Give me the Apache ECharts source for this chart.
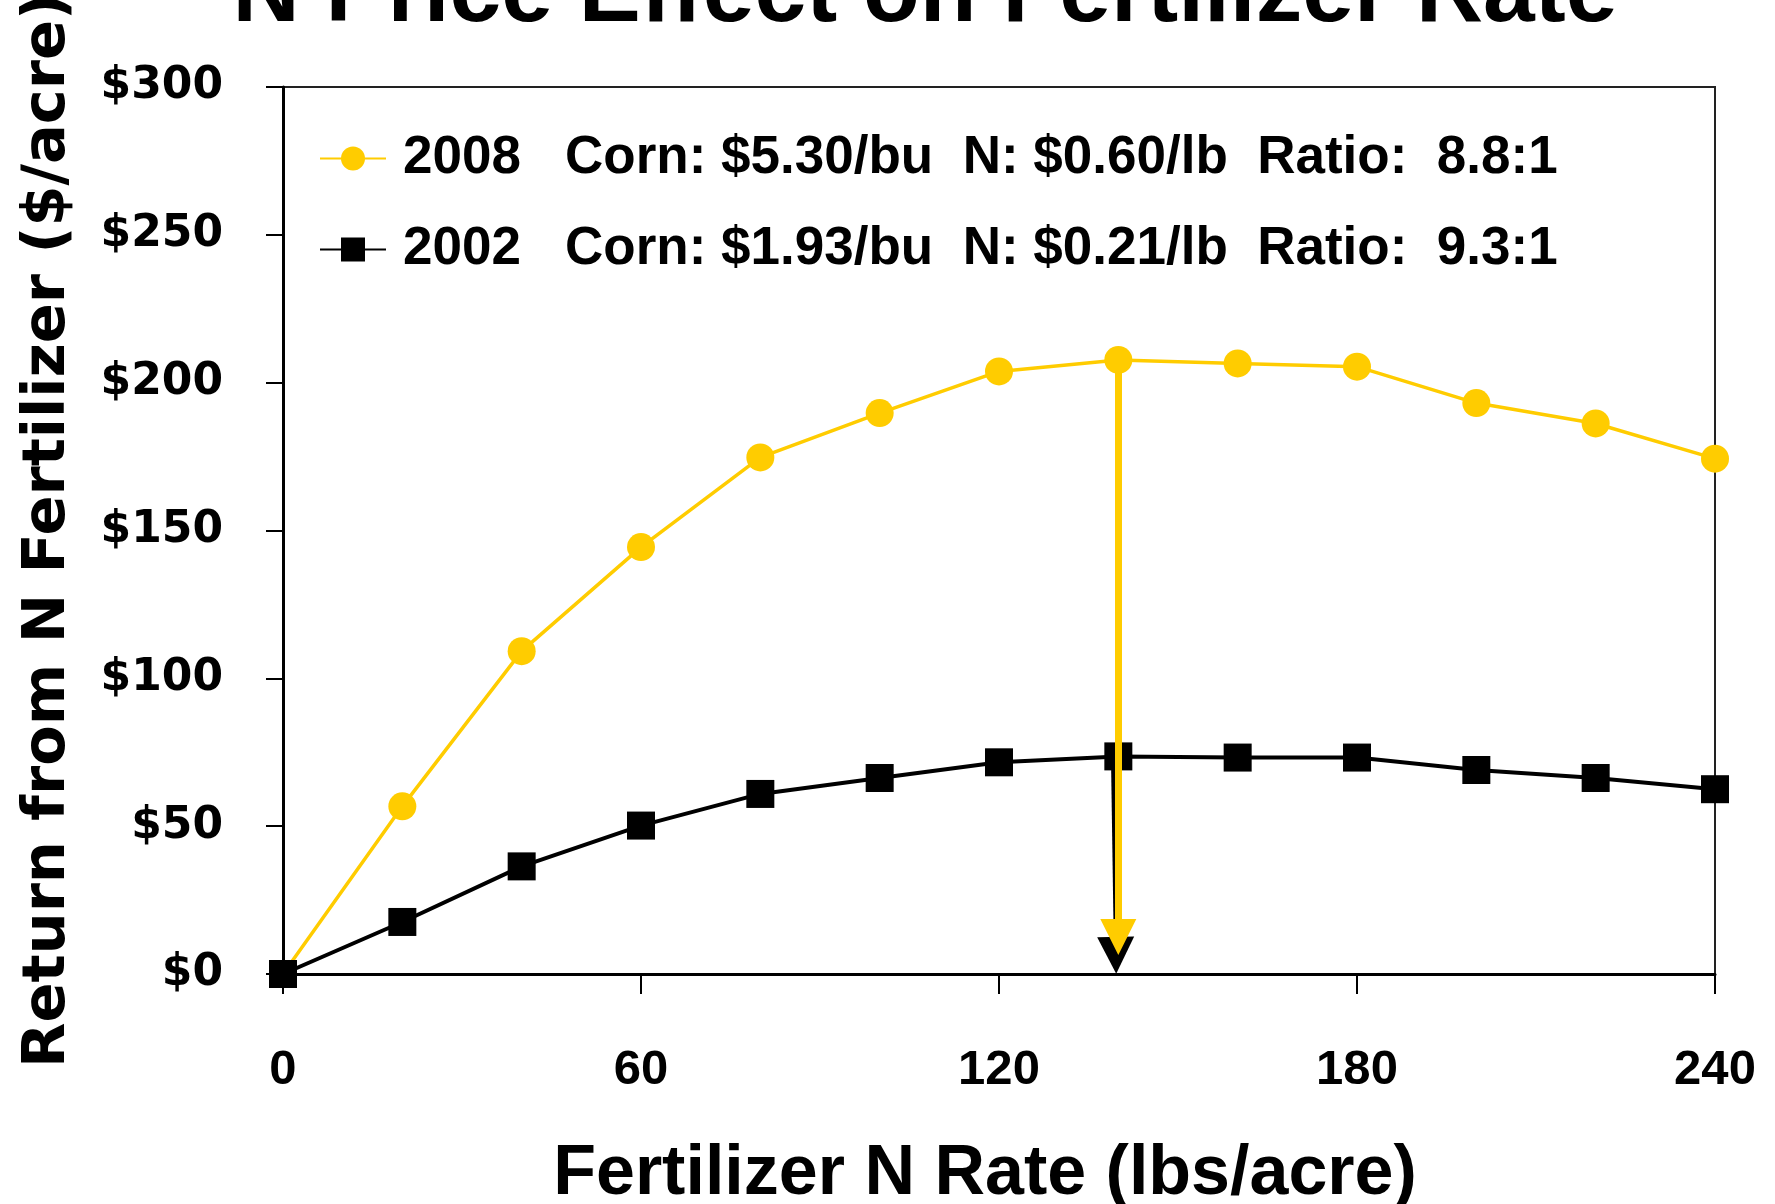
<!DOCTYPE html>
<html>
<head>
<meta charset="utf-8">
<script src="https://cdn.jsdelivr.net/npm/echarts@6/dist/echarts.min.js"></script>
<style>
  html, body { margin: 0; padding: 0; background: #ffffff; }
  #chart { width: 1775px; height: 1204px; }
</style>
</head>
<body>
<div id="chart"></div>
<script>
// Fertilizer N rate (lbs/acre) at which returns were evaluated
const nRates = [0, 20, 40, 60, 80, 100, 120, 140, 160, 180, 200, 220, 240];

// Return from N fertilizer ($/acre)
const return2008 = [0, 56.7, 109.2, 144.4, 174.7, 189.7, 203.8, 207.7, 206.5, 205.4, 193.1, 186.2, 174.3];
const return2002 = [0, 17.6, 36.4, 50.2, 60.9, 66.3, 71.6, 73.6, 73.2, 73.2, 69.0, 66.3, 62.5];

// Axis ticks
const xTicks = [0, 60, 120, 180, 240];
const yTicks = [0, 50, 100, 150, 200, 250, 300];

// Legend labels
const seriesNames = ['2008', '2002'];
const legendLabels = {
  '2008': '2008   Corn: $5.30/bu  N: $0.60/lb  Ratio:  8.8:1',
  '2002': '2002   Corn: $1.93/bu  N: $0.21/lb  Ratio:  9.3:1'
};

const GOLD = '#FFCC00';
const BLACK = '#000000';

// Pair each rate with its return
const toPoints = (vals) => nRates.map((x, i) => [x, vals[i]]);

// Rate that gives the highest return for a series
function peakOf(vals) {
  let k = 0;
  vals.forEach((v, i) => { if (v > vals[k]) k = i; });
  return [nRates[k], vals[k]];
}
const peak2008 = peakOf(return2008);
const peak2002 = peakOf(return2002);

// Arrow feet (y value at the centre of each arrow head)
const footGold = 12.5;
const footBlack = 6.3;

const chart = echarts.init(document.getElementById('chart'), null, { renderer: 'canvas' });

chart.setOption({
  animation: false,
  backgroundColor: '#ffffff',
  title: {
    text: 'N Price Effect on Fertilizer Rate',
    left: 920,
    textAlign: 'center',
    top: -56,
    textStyle: {
      fontFamily: 'Liberation Sans',
      fontWeight: 'bold',
      fontSize: 93,
      color: BLACK
    }
  },
  grid: {
    left: 283,
    right: 60,
    top: 87,
    bottom: 230,
    outerBoundsMode: 'none',
    containLabel: false,
    show: true,
    borderColor: '#222',
    borderWidth: 2,
    backgroundColor: 'transparent'
  },
  legend: {
    data: seriesNames,
    orient: 'vertical',
    left: 314,
    top: 127,
    itemWidth: 66,
    itemHeight: 30,
    itemGap: 38,
    selectedMode: false,
    formatter: (name) => legendLabels[name],
    textStyle: {
      fontFamily: 'Liberation Sans',
      fontWeight: 'bold',
      fontSize: 53,
      lineHeight: 53,
      color: BLACK,
      padding: [0, 0, 0, 12]
    }
  },
  xAxis: {
    type: 'value',
    min: xTicks[0],
    max: xTicks[xTicks.length - 1],
    interval: xTicks[1] - xTicks[0],
    name: 'Fertilizer N Rate (lbs/acre)',
    nameLocation: 'middle',
    nameGap: 166,
    nameTextStyle: {
      fontFamily: 'Liberation Sans',
      fontWeight: 'bold',
      fontSize: 70,
      color: BLACK,
      padding: [0, 28, 0, 0]
    },
    axisLine: { show: true, lineStyle: { color: BLACK, width: 3 } },
    axisTick: { show: true, inside: false, length: 20, lineStyle: { color: BLACK, width: 2 } },
    axisLabel: {
      margin: 72,
      fontFamily: 'Liberation Sans',
      fontWeight: 'bold',
      fontSize: 49,
      color: BLACK
    },
    splitLine: { show: false }
  },
  yAxis: {
    type: 'value',
    min: yTicks[0],
    max: yTicks[yTicks.length - 1],
    interval: yTicks[1] - yTicks[0],
    name: 'Return from N Fertilizer ($/acre)',
    nameLocation: 'middle',
    nameRotate: 90,
    nameGap: 205,
    nameTextStyle: {
      fontFamily: 'DejaVu Sans',
      fontWeight: 'bold',
      fontSize: 59,
      color: BLACK
    },
    axisLine: { show: true, lineStyle: { color: BLACK, width: 3 } },
    axisTick: { show: true, inside: false, length: 17, lineStyle: { color: BLACK, width: 2 } },
    axisLabel: {
      margin: 60,
      formatter: (v) => '$' + v,
      fontFamily: 'DejaVu Sans',
      fontWeight: 'bold',
      fontSize: 44,
      color: BLACK
    },
    splitLine: { show: false }
  },
  series: [
    {
      name: '2002',
      type: 'line',
      data: toPoints(return2002),
      symbol: 'rect',
      symbolSize: 28,
      z: 3,
      itemStyle: { color: BLACK },
      lineStyle: { color: BLACK, width: 4 },
      emphasis: { disabled: true },
      markLine: {
        silent: true,
        z: 4,
        symbol: ['none', 'triangle'],
        symbolSize: 37,
        label: { show: false },
        lineStyle: { color: BLACK, width: 4, type: 'solid' },
        emphasis: { disabled: true },
        data: [[
          { coord: [peak2002[0] - 0.9, peak2002[1]] },
          { coord: [peak2002[0] - 0.4, footBlack] }
        ]]
      }
    },
    {
      name: '2008',
      type: 'line',
      data: toPoints(return2008),
      symbol: 'circle',
      symbolSize: 28,
      z: 2,
      itemStyle: { color: GOLD },
      lineStyle: { color: GOLD, width: 3.5 },
      emphasis: { disabled: true },
      markLine: {
        silent: true,
        z: 6,
        symbol: ['none', 'triangle'],
        symbolSize: 36,
        label: { show: false },
        lineStyle: { color: GOLD, width: 7, type: 'solid' },
        emphasis: { disabled: true },
        data: [[
          { coord: [peak2008[0], peak2008[1]] },
          { coord: [peak2008[0], footGold] }
        ]]
      }
    }
  ]
});
</script>
</body>
</html>
